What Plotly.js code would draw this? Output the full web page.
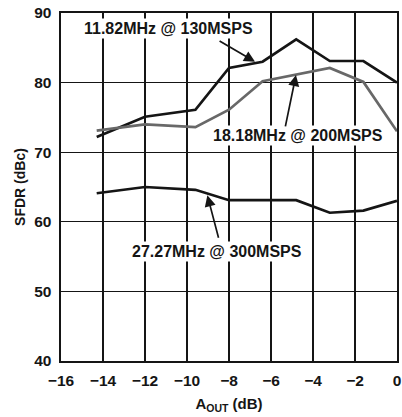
<!DOCTYPE html>
<html>
<head>
<meta charset="utf-8">
<script src="https://cdn.plot.ly/plotly-3.0.1.min.js"></script>
<style>html,body{margin:0;padding:0;background:#fff;}#chart{width:402px;height:417px;}</style>
</head>
<body>
<div id="chart"></div>
<script>
// A_OUT (dB) positions and SFDR (dBc) values
const xA = [-14.3, -12, -9.6, -8, -6.4, -4.8, -3.2, -1.6, 0];
const sfdr130 = [72.2, 75.1, 76.1, 82.1, 83.0, 86.2, 83.1, 83.1, 80.0];
const xB = [-14.3, -12, -9.6, -8, -6.4, -3.2, -1.6, 0];
const sfdr200 = [73.1, 74.0, 73.6, 76.1, 80.2, 82.1, 80.1, 73.0];
const xC = [-14.3, -12, -9.6, -8, -4.8, -3.2, -1.6, 0];
const sfdr300 = [64.1, 65.0, 64.6, 63.1, 63.1, 61.3, 61.6, 63.0];
const labels = ["11.82MHz @ 130MSPS", "18.18MHz @ 200MSPS", "27.27MHz @ 300MSPS"];
const xTicks = [-16, -14, -12, -10, -8, -6, -4, -2, 0];
const yTicks = [40, 50, 60, 70, 80, 90];

const font = "Liberation Sans, Arial, Helvetica, sans-serif";
const ink = "#151515";
const traces = [
  {x: xA, y: sfdr130, mode: "lines", line: {color: ink, width: 2.7}, cliponaxis: false},
  {x: xB, y: sfdr200, mode: "lines", line: {color: "#686868", width: 2.7}, cliponaxis: false},
  {x: xC, y: sfdr300, mode: "lines", line: {color: ink, width: 2.7}, cliponaxis: false}
];

function arrow(hx, hy, tx, ty) {
  return {x: hx, y: hy, ax: tx, ay: ty, xref: "x", yref: "y", axref: "x", ayref: "y",
    text: "", showarrow: true, arrowhead: 2, arrowsize: 1.3, arrowwidth: 1.7, arrowcolor: ink};
}
function label(t, x, y) {
  return {x: x, y: y, xref: "x", yref: "y", text: t, showarrow: false,
    bgcolor: "#ffffff", borderpad: 1,
    font: {family: font, size: 16, color: ink, weight: "bold"}, xanchor: "center", yanchor: "middle"};
}

const layout = {
  width: 402, height: 417,
  margin: {l: 61, r: 5, t: 13, b: 56},
  paper_bgcolor: "#fff", plot_bgcolor: "#fff",
  showlegend: false,
  font: {family: font, size: 15, color: ink, weight: "bold"},
  xaxis: {
    range: [-16, 0], tickvals: xTicks, ticktext: xTicks.map(v => (v < 0 ? "\u2212" + (-v) : "" + v)),
    showgrid: true, gridcolor: ink, gridwidth: 1.3,
    showline: true, linecolor: ink, linewidth: 2.4, mirror: true,
    ticks: "", zeroline: false, ticklabelstandoff: 4,
    tickfont: {family: font, size: 15.5, weight: "bold", color: ink},
    title: {text: "A<sub>OUT</sub> (dB)", font: {family: font, size: 15, weight: "bold", color: ink}, standoff: 11}
  },
  yaxis: {
    range: [40, 90], tickvals: yTicks, ticktext: yTicks.map(v => "" + v),
    showgrid: true, gridcolor: ink, gridwidth: 1.3,
    showline: true, linecolor: ink, linewidth: 2.4, mirror: true,
    ticks: "", zeroline: false, ticklabelstandoff: 4,
    tickfont: {family: font, size: 15.5, weight: "bold", color: ink},
    title: {text: "SFDR (dBc)", font: {family: font, size: 14, weight: "bold", color: ink}, standoff: 6}
  },
  annotations: [
    label(labels[0], -10.86, 87.8),
    arrow(-6.76, 83.0, -8.52, 86.1),
    label(labels[1], -4.7, 72.4),
    arrow(-4.81, 81.1, -5.33, 73.5),
    label(labels[2], -8.55, 55.8),
    arrow(-9.03, 63.8, -8.48, 57.5)
  ]
};

Plotly.newPlot("chart", traces, layout, {staticPlot: true, displayModeBar: false});
</script>
</body>
</html>
